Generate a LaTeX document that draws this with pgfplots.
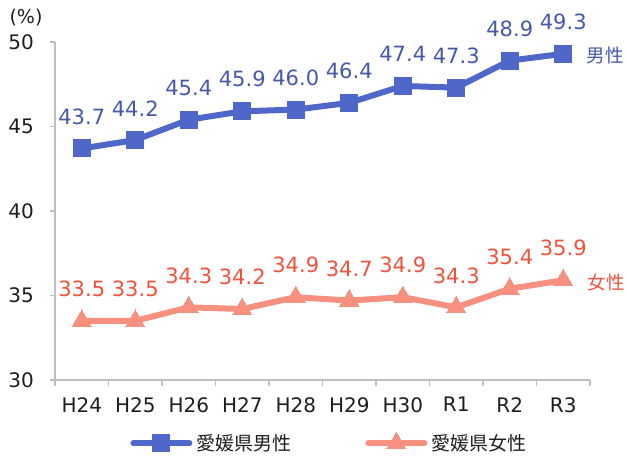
\documentclass[border=0pt]{standalone}
\usepackage{fontspec}
\setmainfont{DejaVu Sans}
\newfontfamily\jp{Noto Sans CJK JP}
\usepackage{pgfplots}
\pgfplotsset{compat=1.18}
\definecolor{mline}{RGB}{78,103,200}
\definecolor{mtext}{RGB}{70,88,170}
\definecolor{fline}{RGB}{248,144,128}
\definecolor{ftext}{RGB}{240,82,60}
\definecolor{axgray}{RGB}{191,191,191}
\definecolor{tick}{RGB}{30,30,30}
\begin{document}
\begin{tikzpicture}
\begin{axis}[
  scale only axis,
  width=535bp, height=338bp,
  xmin=-0.5, xmax=9.5, ymin=30, ymax=50,
  clip=false,
  axis lines*=left,
  axis line style={draw=axgray, line width=1.2bp},
  tick align=outside,
  xtick={0,...,9},
  xticklabels={H24,H25,H26,H27,H28,H29,H30,R1,R2,R3},
  minor xtick={-0.5,0.5,...,9.5},
  major x tick style={draw=none},
  minor x tick style={draw=axgray, line width=1.2bp},
  minor tick length=6bp,
  ytick={30,35,40,45,50},
  major y tick style={draw=axgray, line width=1.2bp},
  major tick length=5bp,
  /pgf/number format/assume math mode=true,
  ticklabel style={font=\fontsize{20bp}{22bp}\selectfont, text=tick, inner sep=0pt},
  xticklabel style={anchor=north, yshift=-12bp},
  yticklabel style={anchor=east, xshift=-16bp},
  legend style={at={(0.512,-0.185)}, anchor=center, draw=none, fill=none,
    legend columns=2, font=\jp\fontsize{19bp}{21bp}\selectfont, text=tick,
    nodes={inner sep=1bp},
    /tikz/every odd column/.append style={column sep=3bp},
    /tikz/every even column/.append style={column sep=73bp}},
  legend image code/.code={\draw[mark repeat=2, mark phase=2, line cap=round, #1] plot coordinates {(0bp,0bp) (28bp,0bp) (56bp,0bp)};},
  nodes near coords={\pgfmathprintnumber[fixed,fixed zerofill,precision=1]{\pgfplotspointmeta}},
  every node near coord/.append style={font=\fontsize{21bp}{23bp}\selectfont, anchor=south, inner sep=0pt, yshift=24bp},
]
\addplot[mline, line width=6bp, line join=round, mark=square*, mark size=8.5bp, mark options={solid, fill=mline, draw=mline, line width=0pt},
  every node near coord/.append style={text=mtext}]
  coordinates {(0,43.7) (1,44.2) (2,45.4) (3,45.9) (4,46.0) (5,46.4) (6,47.4) (7,47.3) (8,48.9) (9,49.3)};
\addlegendentry{愛媛県男性}
\addplot[fline, line width=6bp, line join=round, mark=triangle*, mark size=11bp, mark options={solid, fill=fline, draw=fline, line width=0pt},
  every node near coord/.append style={text=ftext}]
  coordinates {(0,33.5) (1,33.5) (2,34.3) (3,34.2) (4,34.9) (5,34.7) (6,34.9) (7,34.3) (8,35.4) (9,35.9)};
\addlegendentry{愛媛県女性}
\end{axis}
\node[text=tick, font=\fontsize{19bp}{21bp}\selectfont, inner sep=0pt] at (-29bp,362bp) {(\%)};
\node[text=mtext, font=\jp\fontsize{18.5bp}{20bp}\selectfont, inner sep=0pt] at (550bp,325bp) {男性};
\node[text=ftext, font=\jp\fontsize{18.5bp}{20bp}\selectfont, inner sep=0pt] at (551bp,97bp) {女性};
\pgfresetboundingbox
\path[use as bounding box] (-55bp,-77bp) rectangle (573bp,380bp);
\end{tikzpicture}
\end{document}
